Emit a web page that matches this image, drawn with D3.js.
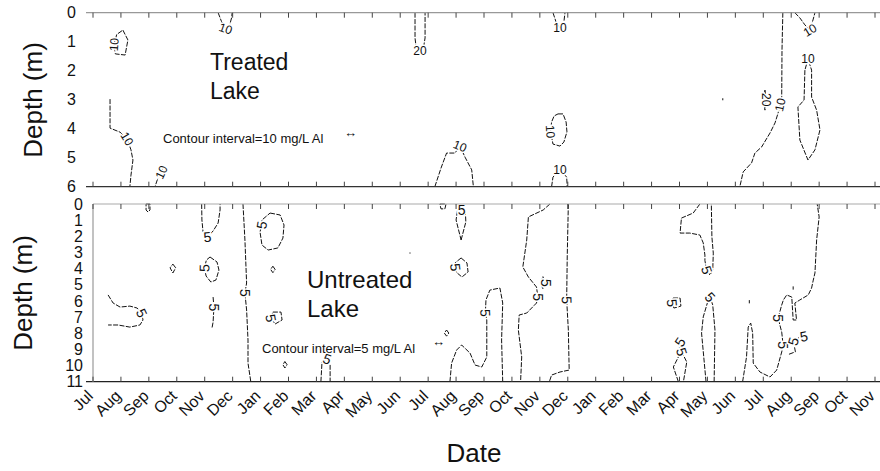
<!DOCTYPE html>
<html>
<head>
<meta charset="utf-8">
<script src="https://cdn.jsdelivr.net/npm/d3@7"></script>
<style>
  body { margin: 0; background: #fff; }
  svg { display: block; font-family: "Liberation Sans", Arial, sans-serif; }
</style>
</head>
<body>
<svg id="chart" width="880" height="471"></svg>
<script>
// month labels along the x axis (Jul .. Nov, 29 months)
var months = ['Jul', 'Aug', 'Sep', 'Oct', 'Nov', 'Dec', 'Jan', 'Feb', 'Mar', 'Apr', 'May', 'Jun',
    'Jul', 'Aug', 'Sep', 'Oct', 'Nov', 'Dec', 'Jan', 'Feb', 'Mar', 'Apr', 'May', 'Jun',
    'Jul', 'Aug', 'Sep', 'Oct', 'Nov'];

var treatedDepthTicks = [0, 1, 2, 3, 4, 5, 6];
var untreatedDepthTicks = [0, 1, 2, 3, 4, 5, 6, 7, 8, 9, 10, 11];

// contours: points are [month index, depth m]; lab = vertex indices carrying a label
var treatedContours = [
    { level: 10, lab: [4], pts: [[1.07, 0.6], [1.25, 0.94], [1.15, 1.46], [0.8, 1.42], [0.75, 1.1], [0.85, 0.75], [1.07, 0.6]] },
    { level: 10, lab: [3], pts: [[0.61, 2.98], [0.61, 3.98], [0.97, 4.12], [1.22, 4.35], [1.36, 4.73], [1.43, 5.08], [1.36, 5.6], [1.32, 6]] },
    { level: 10, lab: [1], pts: [[2.5, 5.35], [2.45, 5.5], [2.3, 5.77], [2.22, 6]] },
    { level: 10, lab: [2], pts: [[4.48, 0], [4.6, 0.3], [4.75, 0.55], [4.9, 0.4], [4.97, 0.15], [4.98, 0]] },
    { level: 20, lab: [3], pts: [[11.53, 0], [11.53, 0.87], [11.56, 1.11], [11.71, 1.33], [11.85, 1.11], [11.89, 0.87], [11.89, 0]] },
    { level: 10, lab: [2], pts: [[16.47, 0], [16.58, 0.32], [16.72, 0.53], [16.86, 0.32], [16.9, 0]] },
    { level: 10, lab: [7], pts: [[16.65, 3.49], [16.83, 3.49], [16.94, 3.77], [16.97, 4.11], [16.86, 4.46], [16.72, 4.6], [16.47, 4.53], [16.38, 4.1], [16.42, 3.77], [16.51, 3.56], [16.65, 3.49]] },
    { level: 10, lab: [4], pts: [[12.24, 6], [12.46, 5.36], [12.66, 4.84], [12.96, 4.84], [13.14, 4.6], [13.32, 4.98], [13.56, 5.42], [13.62, 6]] },
    { level: 10, lab: [2], pts: [[16.42, 6], [16.47, 5.67], [16.72, 5.4], [16.96, 5.67], [16.98, 6]] },
    { level: 10, lab: [3], pts: [[24.7, 0], [24.67, 1.29], [24.66, 2.9], [24.6, 3.18], [24.53, 3.46], [24.42, 3.8], [24.24, 4.15], [23.94, 4.63], [23.7, 4.84], [23.58, 5.18], [23.28, 5.49], [23.16, 6]] },
    { level: 20, lab: [1], pts: [[24.06, 2.67], [24.1, 3.0], [24.06, 3.36], [24.02, 3.0], [24.06, 2.67]] },
    { level: 10, lab: [], pts: [[22.55, 2.95], [22.55, 3.02]] },
    { level: 10, lab: [3], pts: [[25.13, 0], [25.31, 0.18], [25.49, 0.42], [25.67, 0.6], [25.78, 0.25], [25.85, 0]] },
    { level: 10, lab: [10], pts: [[25.49, 1.98], [25.46, 3.01], [25.24, 3.25], [25.31, 4.39], [25.6, 5.08], [25.85, 4.73], [26.03, 4.04], [25.91, 3.36], [25.73, 2.91], [25.73, 1.98], [25.6, 1.6], [25.49, 1.98]] }
];

var untreatedContours = [
    { level: 5, lab: [], pts: [[1.9, 0], [2.04, 0], [2.04, 0.37], [1.97, 0.5], [1.9, 0.37], [1.9, 0]] },
    { level: 5, lab: [], pts: [[2.86, 3.72], [2.96, 3.95], [2.86, 4.27], [2.76, 3.95], [2.86, 3.72]] },
    { level: 5, lab: [3], pts: [[3.89, 0], [3.9, 0.99], [3.94, 1.73], [4.1, 2.04], [4.3, 1.67], [4.48, 1.18], [4.55, 0.37], [4.55, 0]] },
    { level: 5, lab: [6], pts: [[4.19, 3.28], [4.44, 3.59], [4.51, 4.09], [4.4, 4.71], [4.22, 4.83], [4.05, 4.46], [3.99, 3.96], [4.06, 3.47], [4.19, 3.28]] },
    { level: 5, lab: [1], pts: [[4.3, 5.76], [4.33, 6.4], [4.3, 7.31], [4.26, 7.68]] },
    { level: 5, lab: [5], pts: [[0.54, 5.63], [0.72, 6.13], [0.97, 6.38], [1.32, 6.32], [1.58, 6.44], [1.74, 6.75], [1.79, 7.18], [1.68, 7.49], [1.32, 7.62], [0.9, 7.49], [0.54, 7.49]] },
    { level: 5, lab: [3], pts: [[5.37, 0], [5.44, 2.23], [5.5, 4.89], [5.44, 5.51], [5.5, 6.56], [5.55, 8.42], [5.55, 9.85], [5.65, 11]] },
    { level: 5, lab: [8], pts: [[6.34, 0.56], [6.7, 0.68], [6.84, 1.3], [6.8, 2.11], [6.62, 2.72], [6.27, 2.85], [6.05, 2.54], [5.98, 1.73], [6.04, 1.3], [6.05, 0.99], [6.34, 0.56]] },
    { level: 5, lab: [], pts: [[6.44, 3.85], [6.52, 4.05], [6.44, 4.25], [6.36, 4.05], [6.44, 3.85]] },
    { level: 5, lab: [4], pts: [[6.44, 6.69], [6.73, 6.69], [6.77, 7.18], [6.52, 7.43], [6.37, 7.06], [6.44, 6.69]] },
    { level: 5, lab: [], pts: [[6.87, 9.75], [6.95, 9.95], [6.87, 10.15], [6.8, 9.95], [6.87, 9.75]] },
    { level: 5, lab: [2], pts: [[8.16, 11], [8.2, 9.78], [8.38, 9.6], [8.49, 9.97], [8.49, 11]] },
    { level: 5, lab: [], pts: [[11.35, 3.0], [11.35, 3.07]] },
    { level: 5, lab: [], pts: [[12.42, 0], [12.64, 0], [12.6, 0.3], [12.46, 0.3], [12.42, 0]] },
    { level: 5, lab: [3], pts: [[13.18, 2.23], [13.35, 1.11], [13.33, 0.4], [13.2, 0.35], [13.05, 0.4], [13.0, 0.99], [13.18, 2.23]] },
    { level: 5, lab: [5], pts: [[13.18, 3.34], [13.39, 3.65], [13.43, 4.21], [13.21, 4.52], [13.0, 4.21], [12.97, 3.92], [12.96, 3.65], [13.18, 3.34]] },
    { level: 5, lab: [], pts: [[12.66, 7.8], [12.74, 7.99], [12.66, 8.18], [12.58, 7.99], [12.66, 7.8]] },
    { level: 5, lab: [9], pts: [[12.78, 11], [12.84, 9.85], [13.02, 9.04], [13.2, 8.73], [13.5, 9.23], [13.68, 9.97], [13.92, 10.09], [14.1, 9.47], [14.1, 7.18], [14.05, 6.75], [14.07, 5.94], [14.21, 5.33], [14.57, 5.2], [14.67, 6.13], [14.63, 8.42], [14.67, 11]] },
    { level: 5, lab: [7], pts: [[16.36, 0], [16.12, 0.37], [15.59, 0.8], [15.53, 2.23], [15.39, 3.9], [15.59, 4.52], [15.88, 5.14], [15.93, 5.76], [15.88, 6.13], [15.53, 6.75], [15.26, 6.87], [15.23, 7.8], [15.35, 9.47], [15.31, 11]] },
    { level: 5, lab: [1], pts: [[16.11, 4.5], [16.2, 4.89], [16.11, 5.25], [16.02, 4.89], [16.11, 4.5]] },
    { level: 5, lab: [2], pts: [[17.02, 0], [16.98, 3.28], [16.96, 5.94], [17.02, 7.8], [17.05, 10.28], [16.72, 10.4], [16.42, 10.59], [16.34, 11]] },
    { level: 5, lab: [9], pts: [[21.73, 0], [21.49, 0.56], [21.07, 0.87], [21.02, 1.8], [21.37, 1.8], [21.73, 1.92], [21.85, 2.41], [21.91, 3.16], [21.91, 3.5], [21.97, 4.09], [22.09, 4.4], [22.19, 4.09], [22.21, 3.04], [22.16, 2.04], [22.14, 0]] },
    { level: 5, lab: [4], pts: [[21.95, 11], [21.79, 7.99], [21.85, 6.99], [22.03, 5.94], [22.09, 5.76], [22.19, 6.25], [22.27, 7.8], [22.24, 11]] },
    { level: 5, lab: [4], pts: [[20.77, 5.82], [21.02, 5.82], [21.05, 6.32], [20.8, 6.44], [20.73, 6.13], [20.77, 5.82]] },
    { level: 5, lab: [3, 4], pts: [[20.96, 11], [20.78, 10.09], [20.96, 9.47], [21.02, 8.54], [21.08, 9.16], [21.26, 9.78], [21.14, 11]] },
    { level: 5, lab: [10, 12], pts: [[23.26, 11], [23.4, 9.47], [23.46, 7.62], [23.55, 7.37], [23.62, 7.99], [23.64, 9.85], [23.88, 10.4], [24.24, 10.71], [24.48, 10.28], [24.66, 9.16], [24.71, 8.73], [24.66, 7.93], [24.53, 7.06], [24.66, 6.25], [24.72, 5.94], [24.84, 5.63], [25.02, 5.76], [25.07, 7.18], [25.19, 7.18], [25.13, 6.13], [25.31, 5.94], [25.61, 5.63], [25.73, 5.2], [25.79, 4.71], [25.85, 4.27], [25.91, 2.23], [26.0, 0.8], [25.93, 0]] },
    { level: 5, lab: [2, 4], pts: [[24.92, 9.3], [25.15, 9.15], [25.08, 8.5], [25.3, 8.25], [25.45, 8.2]] },
    { level: 5, lab: [], pts: [[23.5, 5.95], [23.5, 6.15]] },
    { level: 5, lab: [], pts: [[25.07, 5.1], [25.07, 5.3]] }
];


(function () {

    var svg = d3.select('#chart');

    var x = d3.scaleLinear().domain([0, months.length - 1]).range([93, 875]);
    var yTop = d3.scaleLinear().domain([0, 6]).range([12.7, 186.7]);
    var yBot = d3.scaleLinear().domain([0, 11]).range([204, 381.7]);

    function hline(y, x0, x1, color) {
        svg.append('line')
            .attr('x1', x0).attr('x2', x1)
            .attr('y1', y).attr('y2', y)
            .attr('stroke', color).attr('stroke-width', 1.2);
    }

    function monthTicks(y, dir) {
        // dir 1: ticks going down, -1: going up
        svg.append('g')
            .selectAll('line')
            .data(months.map(function (m, i) { return i; }))
            .enter()
            .append('line')
            .attr('x1', function (d) { return x(d); })
            .attr('x2', function (d) { return x(d); })
            .attr('y1', y)
            .attr('y2', y + dir * 5)
            .attr('stroke', '#444')
            .attr('stroke-width', 1);
    }

    function depthAxis(y, ticks, xPos) {
        var g = svg.append('g')
            .attr('transform', 'translate(' + xPos + ',0)')
            .call(d3.axisLeft(y).tickValues(ticks).tickFormat(d3.format('d')).tickSize(0).tickPadding(0));
        g.select('.domain').remove();
        g.selectAll('text')
            .attr('x', -10)
            .attr('font-size', 16)
            .attr('font-family', '"Liberation Sans", Arial, sans-serif')
            .attr('fill', '#111');
    }

    function drawContours(list, y, labelSize) {
        var line = d3.line()
            .x(function (p) { return x(p[0]); })
            .y(function (p) { return y(p[1]); });

        var g = svg.append('g');
        g.selectAll('path')
            .data(list)
            .enter()
            .append('path')
            .attr('d', function (c) { return line(c.pts); })
            .attr('fill', 'none')
            .attr('stroke', '#111')
            .attr('stroke-width', 1)
            .attr('stroke-dasharray', '5,1.4');

        var labels = [];
        list.forEach(function (c) {
            c.lab.forEach(function (i) {
                var a = c.pts[Math.max(i - 1, 0)];
                var b = c.pts[Math.min(i + 1, c.pts.length - 1)];
                var ang = Math.atan2(y(b[1]) - y(a[1]), x(b[0]) - x(a[0])) * 180 / Math.PI;
                if (ang > 90) ang -= 180;
                if (ang <= -90) ang += 180;
                labels.push({ p: c.pts[i], ang: ang, text: c.level });
            });
        });

        g.selectAll('text')
            .data(labels)
            .enter()
            .append('text')
            .attr('transform', function (d) {
                return 'translate(' + x(d.p[0]) + ',' + y(d.p[1]) + ') rotate(' + d.ang + ')';
            })
            .attr('text-anchor', 'middle')
            .attr('dy', '0.35em')
            .attr('font-size', labelSize)
            .attr('fill', '#111')
            .attr('stroke', '#fff')
            .attr('stroke-width', 3)
            .attr('paint-order', 'stroke')
            .text(function (d) { return d.text; });
    }

    // contours first, frame on top
    drawContours(treatedContours, yTop, 12);
    drawContours(untreatedContours, yBot, 14);

    // treated panel frame
    hline(yTop(0), 86, 880, '#999');
    hline(yTop(6), 86, 880, '#333');
    monthTicks(yTop(0), 1);
    monthTicks(yTop(6), -1);
    depthAxis(yTop, treatedDepthTicks, 86);

    // untreated panel frame
    hline(yBot(0), 93, 880, '#aaa');
    hline(yBot(11), 86, 880, '#222');
    svg.append('line')
        .attr('x1', 93).attr('x2', 93)
        .attr('y1', yBot(0)).attr('y2', yBot(11))
        .attr('stroke', '#999').attr('stroke-width', 1.2);
    monthTicks(yBot(0), 1);
    monthTicks(yBot(11), -1);
    depthAxis(yBot, untreatedDepthTicks, 93);

    // month labels
    svg.append('g')
        .selectAll('text')
        .data(months)
        .enter()
        .append('text')
        .attr('transform', function (d, i) {
            return 'translate(' + (x(i) + 1) + ',' + 397 + ') rotate(-45)';
        })
        .attr('text-anchor', 'end')
        .attr('font-size', 16)
        .attr('fill', '#111')
        .text(function (d) { return d; });

    // axis titles
    svg.append('text')
        .attr('transform', 'translate(42,100) rotate(-90)')
        .attr('text-anchor', 'middle')
        .attr('font-size', 26)
        .attr('fill', '#111')
        .text('Depth (m)');
    svg.append('text')
        .attr('transform', 'translate(32,293) rotate(-90)')
        .attr('text-anchor', 'middle')
        .attr('font-size', 26)
        .attr('fill', '#111')
        .text('Depth (m)');
    svg.append('text')
        .attr('x', 474).attr('y', 462)
        .attr('text-anchor', 'middle')
        .attr('font-size', 26)
        .attr('fill', '#111')
        .text('Date');

    // panel annotations
    var notes = [
        { x: 210, y: 70, s: 23, t: 'Treated' },
        { x: 210, y: 99, s: 23, t: 'Lake' },
        { x: 307, y: 288, s: 24, t: 'Untreated' },
        { x: 307, y: 317, s: 24, t: 'Lake' },
        { x: 163, y: 143, s: 13, t: 'Contour interval=10 mg/L Al' },
        { x: 262, y: 353, s: 13, t: 'Contour interval=5 mg/L Al' },
        { x: 344, y: 137, s: 13, t: '\u2194' },
        { x: 432, y: 346, s: 13, t: '\u2194' }
    ];
    svg.append('g')
        .selectAll('text')
        .data(notes)
        .enter()
        .append('text')
        .attr('x', function (d) { return d.x; })
        .attr('y', function (d) { return d.y; })
        .attr('font-size', function (d) { return d.s; })
        .attr('fill', '#111')
        .text(function (d) { return d.t; });

})();
</script>
</body>
</html>
